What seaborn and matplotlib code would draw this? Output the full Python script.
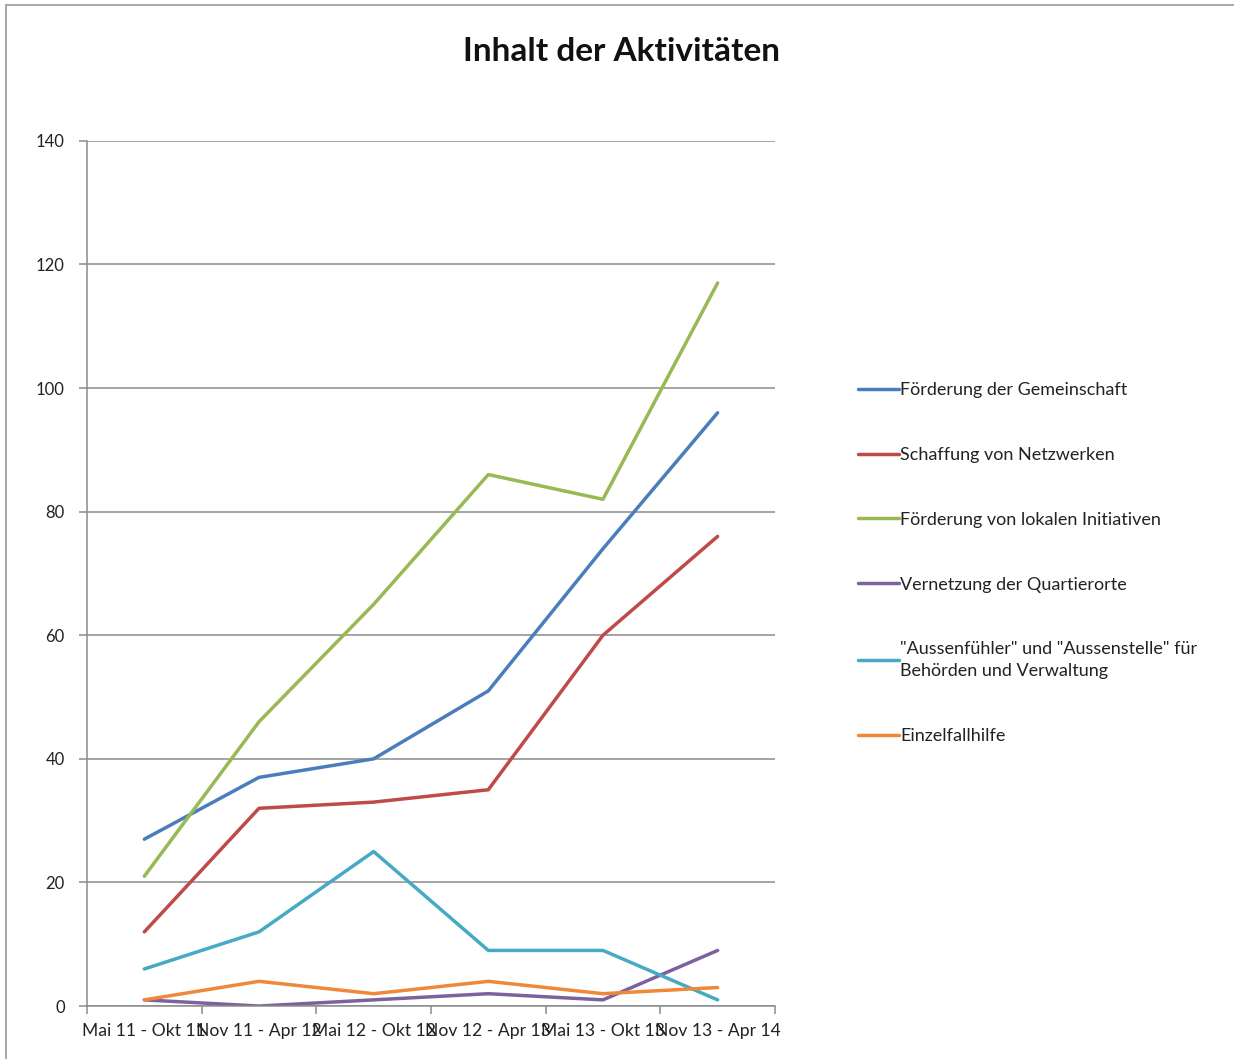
import pandas as pd
import seaborn as sns
import matplotlib.pyplot as plt
from matplotlib.lines import Line2D

# periods (x categories)
periods = ["Mai 11 - Okt 11", "Nov 11 - Apr 12", "Mai 12 - Okt 12",
           "Nov 12 - Apr 13", "Mai 13 - Okt 13", "Nov 13 - Apr 14"]

series_names = [
    "Förderung der Gemeinschaft",
    "Schaffung von Netzwerken",
    "Förderung von lokalen Initiativen",
    "Vernetzung der Quartierorte",
    "\"Aussenfühler\" und \"Aussenstelle\" für\nBehörden und Verwaltung",
    "Einzelfallhilfe",
]

gemeinschaft = [27, 37, 40, 51, 74, 96]
netzwerke = [12, 32, 33, 35, 60, 76]
initiativen = [21, 46, 65, 86, 82, 117]
quartierorte = [1, 0, 1, 2, 1, 9]
aussen = [6, 12, 25, 9, 9, 1]
einzelfall = [1, 4, 2, 4, 2, 3]

colors = ["#4A7EBB", "#BE4B48", "#98B954", "#7D60A0", "#46AAC5", "#F0883A"]

values = [gemeinschaft, netzwerke, initiativen, quartierorte, aussen, einzelfall]
rows = []
for name, vals in zip(series_names, values):
    for i, v in enumerate(vals):
        rows.append({"pos": i + 0.5, "value": v, "series": name})
df = pd.DataFrame(rows)

sns.set_theme(style="white")
plt.rcParams["font.family"] = ["Lato", "DejaVu Sans"]

fig = plt.figure(figsize=(12.34, 10.59), dpi=100)
ax = fig.add_axes([0.0705, 0.050, 0.5575, 0.817])

sns.lineplot(data=df, x="pos", y="value", hue="series", palette=colors,
             hue_order=series_names, linewidth=2.5, ax=ax, legend=True)

ax.set_xlim(0, 6)
ax.set_ylim(0, 140)
ax.set_yticks(range(0, 141, 20))
ax.yaxis.grid(True, color="#8c8c8c", linewidth=1.1)
ax.set_axisbelow(True)
ax.set_xticks(range(0, 7))
ax.set_xticklabels([])
ax.set_xticks([i + 0.5 for i in range(6)], minor=True)
ax.set_xticklabels(periods, minor=True, fontsize=12.6, color="#222222")
ax.tick_params(axis="x", which="major", direction="out", length=6,
               width=1.1, color="#8c8c8c", bottom=True)
ax.tick_params(axis="x", which="minor", length=0, pad=12)
ax.tick_params(axis="y", direction="out", length=6, width=1.1,
               color="#8c8c8c", left=True, labelsize=12, labelcolor="#222222", pad=10)
for side in ["top", "right"]:
    ax.spines[side].set_visible(False)
for side in ["left", "bottom"]:
    ax.spines[side].set_color("#8c8c8c")
    ax.spines[side].set_linewidth(1.1)
ax.set_xlabel("")
ax.set_ylabel("")

handles, labels = ax.get_legend_handles_labels()
leg = ax.legend(handles, labels, loc="center left", bbox_to_anchor=(1.11, 0.512),
                frameon=False, fontsize=13, handlelength=2.3, handletextpad=0.05,
                labelspacing=2.7, borderaxespad=0)
for t in leg.get_texts():
    t.set_color("#222222")
    t.set_linespacing(1.45)

fig.suptitle("Inhalt der Aktivitäten", x=0.504, y=0.951, va="center",
             fontsize=24, fontweight="bold", color="#111111")

# screenshot frame
fig.add_artist(Line2D([0.005, 0.005], [0, 0.995], transform=fig.transFigure,
                      color="#9a9a9a", linewidth=1.2))
fig.add_artist(Line2D([0.005, 1], [0.995, 0.995], transform=fig.transFigure,
                      color="#9a9a9a", linewidth=1.2))

fig.savefig("out.png", dpi=100)
